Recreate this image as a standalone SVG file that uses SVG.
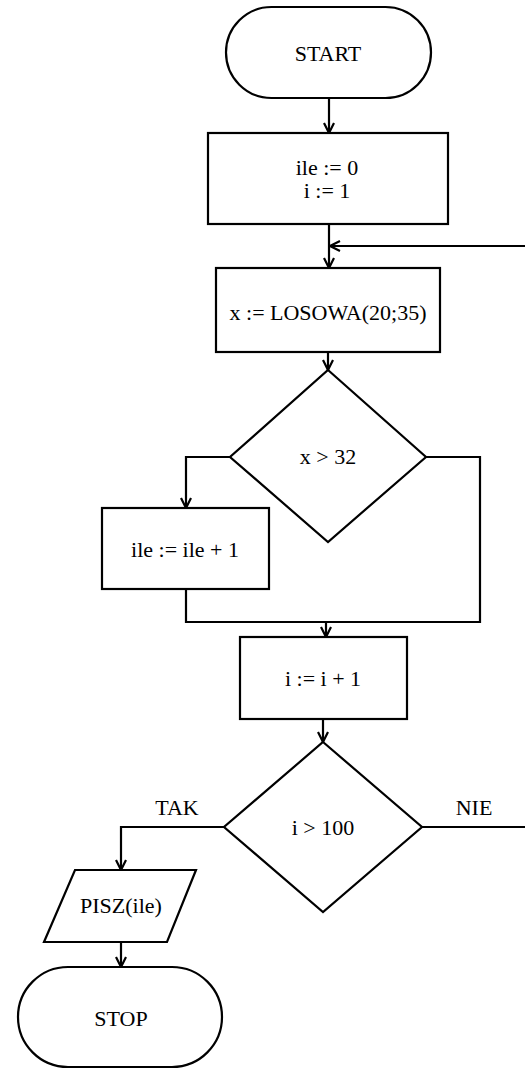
<svg xmlns="http://www.w3.org/2000/svg" width="525" height="1069" viewBox="0 0 525 1069">
  <style>
    .shape { fill: #fff; stroke: #000; stroke-width: 2.2; }
    .line { fill: none; stroke: #000; stroke-width: 2.2; }
    text { font-family: "Liberation Serif", "Times New Roman", serif; font-size: 22px; fill: #000; text-anchor: middle; }
  </style>
  <defs>
    <marker id="arrow" viewBox="0 0 12 12" refX="11" refY="6" markerWidth="12" markerHeight="12" markerUnits="userSpaceOnUse" orient="auto">
      <path d="M1,1 L11,6 L1,11" fill="none" stroke="#000" stroke-width="2.2"/>
    </marker>
  </defs>

  <g id="connectors">
    <path class="line" d="M329,98 V133" marker-end="url(#arrow)"/>
    <path class="line" d="M329,224 V268" marker-end="url(#arrow)"/>
    <path class="line" d="M540,246 H330" marker-end="url(#arrow)"/>
    <path class="line" d="M328,352 V370" marker-end="url(#arrow)"/>
    <path class="line" d="M230,457 H186 V508" marker-end="url(#arrow)"/>
    <path class="line" d="M186,589 V622 H480 V457 H426"/>
    <path class="line" d="M326,622 V637" marker-end="url(#arrow)"/>
    <path class="line" d="M323,719 V742" marker-end="url(#arrow)"/>
    <path class="line" d="M422,827 H540"/>
    <path class="line" d="M224,827 H121 V870" marker-end="url(#arrow)"/>
    <path class="line" d="M121,942 V967" marker-end="url(#arrow)"/>
    <text x="177" y="815">TAK</text>
    <text x="474" y="815">NIE</text>
  </g>

  <g id="start">
    <rect class="shape" x="226" y="7" width="205" height="91" rx="45.5" ry="45.5"/>
    <text x="328" y="61">START</text>
  </g>

  <g id="init">
    <rect class="shape" x="208" y="133" width="240" height="91"/>
    <text x="327" y="175">ile := 0</text>
    <text x="327" y="198">i := 1</text>
  </g>

  <g id="random">
    <rect class="shape" x="216" y="268" width="224" height="84"/>
    <text x="328" y="320">x := LOSOWA(20;35)</text>
  </g>

  <g id="check-x">
    <polygon class="shape" points="328,370 426,457 328,542 230,457"/>
    <text x="328" y="464">x &gt; 32</text>
  </g>

  <g id="increment-ile">
    <rect class="shape" x="102" y="508" width="167" height="81"/>
    <text x="185" y="557">ile := ile + 1</text>
  </g>

  <g id="increment-i">
    <rect class="shape" x="240" y="637" width="167" height="82"/>
    <text x="323" y="686">i := i + 1</text>
  </g>

  <g id="check-i">
    <polygon class="shape" points="323,742 422,827 323,912 224,827"/>
    <text x="323" y="835">i &gt; 100</text>
  </g>

  <g id="output">
    <polygon class="shape" points="75,870 196,870 167,942 44,942"/>
    <text x="121" y="913">PISZ(ile)</text>
  </g>

  <g id="stop">
    <rect class="shape" x="18" y="967" width="204" height="100" rx="50" ry="50"/>
    <text x="121" y="1026">STOP</text>
  </g>
</svg>
